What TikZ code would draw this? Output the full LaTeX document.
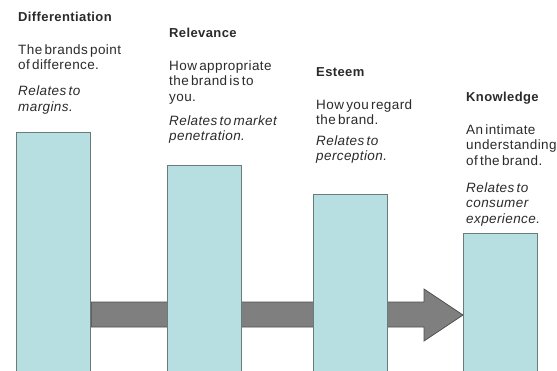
\documentclass[tikz,border=0pt]{standalone}
\usepackage{fontspec}
\setmainfont{Liberation Sans}[WordSpace=0.55, LetterSpace=3]
\usetikzlibrary{backgrounds}
\definecolor{barfill}{HTML}{B7DEE1}
\definecolor{barline}{HTML}{6B7B7B}
\definecolor{arrowfill}{HTML}{7F7F7F}
\definecolor{arrowline}{HTML}{505050}
\definecolor{txt}{HTML}{2A2A2A}

\begin{document}
\begin{tikzpicture}[x=1pt, y=-1pt,
    bar/.style={rectangle, draw=barline, line width=1.1pt, fill=barfill, minimum width=74pt, anchor=north west, inner sep=0pt},
    head/.style={anchor=base west, inner sep=0pt, text=txt, font=\bfseries\fontsize{13}{15.5}\selectfont},
    body/.style={anchor=base west, inner sep=0pt, align=left, text=txt, font=\fontsize{13.5}{15.5}\selectfont},
    note/.style={body, font=\itshape\fontsize{13.5}{15.5}\selectfont}]
    \useasboundingbox (0,0) rectangle (557,370);

    % Bars
    \node[bar, minimum height=242pt] (b1) at (16,132) {};
    \node[bar, minimum height=209pt] (b2) at (167,165) {};
    \node[bar, minimum height=180pt] (b3) at (313,194) {};
    \node[bar, minimum height=141pt] (b4) at (463,233) {};

    % Block arrow behind the bars
    \begin{scope}[on background layer]
        \draw[fill=arrowfill, draw=arrowline, line width=0.8pt]
            (b1.east |- 0,302) -- (424,302) -- (424,289) -- (b4.west |- 0,315)
            -- (424,341) -- (424,327) -- (b1.east |- 0,327) -- cycle;
    \end{scope}

    % Differentiation (multi-line nodes sit on their last baseline)
    \node[head] (diffhead) at (18,21) {Differentiation};
    \node[body] (diffbody) at (18,69.5) {The brands point\\of difference.};
    \node[note] (diffnote) at (18,111) {Relates to\\margins.};

    % Relevance
    \node[head] (relhead) at (169,37) {Relevance};
    \node[body] (relbody) at (169,101) {How appropriate\\the brand is to\\you.};
    \node[note] (relnote) at (169,140.5) {Relates to market\\penetration.};

    % Esteem
    \node[head] (esthead) at (316,76) {Esteem};
    \node[body] (estbody) at (316,124.5) {How you regard\\the brand.};
    \node[note] (estnote) at (316,160.5) {Relates to\\perception.};

    % Knowledge
    \node[head] (knowhead) at (466,101) {Knowledge};
    \node[body] (knowbody) at (466,165) {An intimate\\understanding\\of the brand.};
    \node[note] (knownote) at (466,223) {Relates to\\consumer\\experience.};
\end{tikzpicture}
\end{document}
